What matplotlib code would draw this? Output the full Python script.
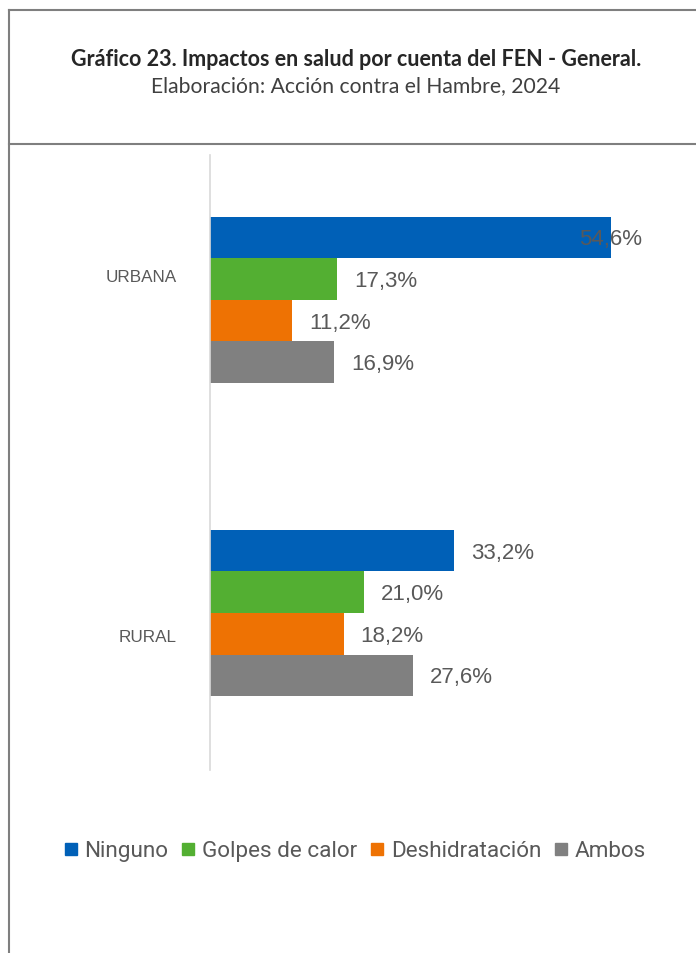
import matplotlib
matplotlib.use("Agg")
import matplotlib.pyplot as plt
from matplotlib.lines import Line2D
import numpy as np

categories = ["URBANA", "RURAL"]
series = ["Ninguno", "Golpes de calor", "Deshidratación", "Ambos"]
ninguno = [54.6, 33.2]
golpes = [17.3, 21.0]
deshidratacion = [11.2, 18.2]
ambos = [16.9, 27.6]
values = [ninguno, golpes, deshidratacion, ambos]
colors = ["#0060B7", "#53AF32", "#EE7203", "#808080"]

W, H = 696, 954
fig = plt.figure(figsize=(W / 100, H / 100), dpi=100)

def fx(px):
    return px / W

def fy(py):
    return 1 - py / H

# frame lines
frame_c = "#7f7f7f"
fig.add_artist(Line2D([fx(9), fx(9)], [fy(11), fy(H)], color=frame_c, lw=1.5, transform=fig.transFigure))
fig.add_artist(Line2D([fx(9), fx(W)], [fy(11), fy(11)], color=frame_c, lw=1.5, transform=fig.transFigure))
fig.add_artist(Line2D([fx(9), fx(W)], [fy(145), fy(145)], color=frame_c, lw=1.5, transform=fig.transFigure))

# titles
fig.text(fx(356), fy(60), "Gráfico 23. Impactos en salud por cuenta del FEN - General.",
         ha="center", va="center", fontsize=15.5, fontweight="bold", family="Lato", color="#262626")
fig.text(fx(356), fy(86), "Elaboración: Acción contra el Hambre, 2024",
         ha="center", va="center", fontsize=15.2, family="Lato", color="#404040")

# axes
left_px, right_px, top_px, bottom_px = 210, 642, 156, 771
ax = fig.add_axes([fx(left_px), fy(bottom_px), fx(right_px - left_px), (bottom_px - top_px) / H])

unit = 313.2
h = 41.6 / unit
pos = np.arange(len(categories))
xmax = 58.8
offset = 2.3
for i, (vals, c) in enumerate(zip(values, colors)):
    y = pos + (i - 1.5) * h
    ax.barh(y, vals, height=h, color=c, label=series[i])
    for yy, v in zip(y, vals):
        lab = f"{v:.1f}".replace(".", ",") + "%"
        if v + offset + 8.8 > xmax:
            ax.text(xmax, yy + 0.005, lab, ha="right", va="center", fontsize=16,
                    family="Liberation Sans", color="#595959")
        else:
            ax.text(v + offset, yy + 0.005, lab, ha="left", va="center", fontsize=16,
                    family="Liberation Sans", color="#595959")

ax.set_xlim(0, xmax)
ax.set_ylim(1 + (771 - 614) / unit, -(300.8 - 156) / unit)

# category labels
cat_offsets = [(276 - 300.8) / unit, (636 - 614) / unit]
ax.set_yticks(pos + np.array(cat_offsets))
ax.set_yticklabels(categories, fontsize=12.3, family="Liberation Sans", color="#595959")
ax.tick_params(axis="y", length=0, pad=24)
ax.set_xticks([])
for s in ["top", "right", "bottom"]:
    ax.spines[s].set_visible(False)
ax.spines["left"].set_color("#d9d9d9")
ax.spines["left"].set_linewidth(1.2)
ax.patch.set_alpha(0)

# legend
handles = [Line2D([], [], marker="s", linestyle="none", markersize=8.5, markerfacecolor=c,
                  markeredgecolor=c) for c in colors]
fig.legend(handles, series, loc="center", bbox_to_anchor=(fx(355), fy(852)), ncol=4,
           frameon=False, handlelength=0.6, handletextpad=0.3, columnspacing=0.6,
           prop={"family": "Roboto", "size": 16.2}, labelcolor="#595959")

fig.savefig("out.png", dpi=100)
